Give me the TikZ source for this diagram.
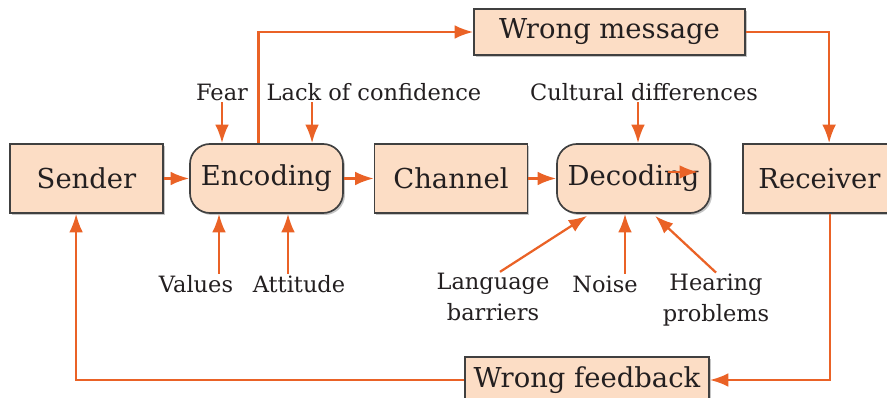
\documentclass[tikz,border=0pt]{standalone}
\usepackage{fontspec}
\setmainfont{DejaVu Serif}
\usetikzlibrary{arrows.meta,shadows}
\definecolor{peach}{RGB}{252,221,197}
\definecolor{arrorange}{RGB}{234,98,38}
\definecolor{inkgray}{RGB}{35,31,32}

\begin{document}
\begin{tikzpicture}[
    x=0.025cm, y=-0.025cm,
    every node/.style={text=inkgray},
    box/.style={rectangle, draw=black!75, line width=1.2pt, fill=peach,
      drop shadow={shadow xshift=1.4pt, shadow yshift=-1.4pt, fill=black!45},
      minimum width=3.825cm, minimum height=1.725cm, font=\fontsize{19.5}{22}\selectfont},
    roundbox/.style={box, rounded corners=0.5cm},
    wrongbox/.style={box, minimum width=6.775cm, minimum height=1.15cm},
    lbl/.style={inner sep=1pt, align=center, font=\fontsize{16}{21.5}\selectfont},
    arr/.style={-{Latex[length=0.46cm,width=0.34cm]}, draw=arrorange, line width=1.6pt}
  ]
  \clip (0,0) rectangle (887,398);

  % Boxes
  \node[box] (sender) at (86.5,178.5) {Sender};
  \node[roundbox] (encoding) at (266.5,178.5) {Encoding};
  \node[box] (channel) at (451,178.5) {Channel};
  \node[roundbox] (decoding) at (633.5,178.5) {Decoding};
  \node[box] (receiver) at (819.5,178.5) {Receiver};
  \node[wrongbox] (wrongmsg) at (609.5,32) {Wrong message};
  \node[wrongbox, minimum width=6.1cm] (wrongfb) at (587,380) {Wrong feedback};

  % Labels
  \node[lbl] (fear) at (222,92) {Fear};
  \node[lbl] (lack) at (374,92) {Lack of confidence};
  \node[lbl] (cultural) at (644,92) {Cultural differences};
  \node[lbl] (values) at (196,284) {Values};
  \node[lbl] (attitude) at (299,284) {Attitude};
  \node[lbl] (language) at (493,297) {Language\\barriers};
  \node[lbl] (noise) at (605,284) {Noise};
  \node[lbl] (hearing) at (716,300) {Hearing\\problems};

  \coordinate (lackfoot) at ([xshift=1.175cm]lack.south west);
  \coordinate (decA) at (668,172);
  \coordinate (decB) at (698,172);

  % Main line
  \draw[arr] (sender) -- (encoding);
  \draw[arr] (encoding) -- (channel);
  \draw[arr] (channel) -- (decoding);
  \draw[arr] (decA) -- (decB);
  \draw[arr] ([xshift=-0.2cm]encoding.north) |- (wrongmsg.west);
  \draw[arr] (wrongmsg.east) -| ([xshift=0.24cm]receiver.north);
  \draw[arr] ([xshift=0.26cm]receiver.south) |- (wrongfb.east);
  \draw[arr] (wrongfb.west) -| ([xshift=-0.26cm]sender.south);

  % Influences
  \draw[arr] (fear) -- (fear |- encoding.north);
  \draw[arr] (lackfoot) -- (lackfoot |- encoding.north);
  \draw[arr] ([xshift=-0.15cm]cultural.south) -- ([xshift=-0.15cm]cultural.south |- decoding.north);
  \draw[arr] ([xshift=0.575cm]values.north) -- ([xshift=0.575cm]values.north |- encoding.south);
  \draw[arr] ([xshift=-0.275cm]attitude.north) -- ([xshift=-0.275cm]attitude.north |- encoding.south);
  \draw[arr] ([xshift=0.175cm]language.north) -- ([xshift=-1.16cm,yshift=-0.05cm]decoding.south);
  \draw[arr] ([xshift=0.5cm]noise.north) -- ([xshift=0.5cm]noise.north |- decoding.south);
  \draw[arr] (hearing.north) -- ([xshift=0.54cm,yshift=-0.05cm]decoding.south);
\end{tikzpicture}
\end{document}
